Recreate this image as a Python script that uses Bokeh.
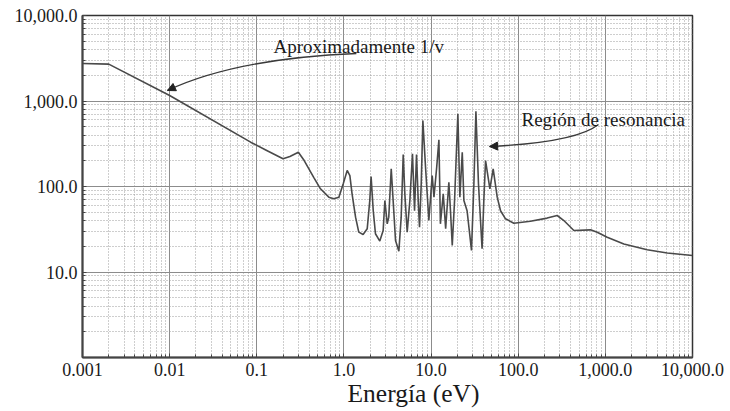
from bokeh.plotting import figure
from bokeh.models import (FixedTicker, CustomJSTickFormatter, Label, Arrow, Title,
                          NormalHead, Range1d, ColumnDataSource)
from bokeh.embed import file_html
from bokeh.resources import INLINE

# Neutron energy (eV) and cross section (barns)
energy = [0.001, 0.002, 0.01, 0.085, 0.13, 0.20, 0.24, 0.30, 0.35, 0.45, 0.538, 0.671, 0.766,
          0.875, 0.98, 1.09, 1.17, 1.24, 1.36, 1.48, 1.66, 1.85, 1.98, 2.05, 2.17, 2.30, 2.58,
          2.82, 2.95, 3.14, 3.27, 3.49, 3.67, 3.91, 4.27, 4.54, 4.79, 5.00, 5.32, 5.71, 6.12,
          6.46, 6.81, 7.12, 7.37, 7.71, 8.05, 8.64, 9.43, 10.3, 10.8, 11.6, 12.3, 12.8, 13.8,
          14.7, 16.0, 16.7, 17.5, 18.6, 20.3, 21.4, 22.8, 23.8, 25.9, 29.1, 31.0, 32.7, 35.0,
          38.5, 40.3, 42.2, 47.3, 51.6, 57.4, 62.7, 71.5, 89, 138, 215, 280, 334, 435, 676,
          806, 1050, 1630, 3020, 5130, 10000]
cross_section = [2750, 2700, 1160, 330, 264, 211, 224, 252, 201, 128, 94, 75, 71.7,
                 75, 107, 154, 134, 82, 43.8, 29.3, 27.5, 32, 68.5, 131, 52, 28, 23,
                 30.6, 68.5, 36.6, 43.8, 161, 68.5, 23.4, 17.5, 43.8, 237, 82, 29.3, 68.5, 241,
                 52, 237, 68.5, 33.5, 107, 591, 168, 40, 134, 75, 168, 351, 36.6, 82,
                 32, 112, 52, 20.4, 68.5, 708, 75, 252, 68.5, 52, 17.9, 107, 760, 107,
                 18.7, 68.5, 201, 94, 161, 75, 52, 41.9, 37.2, 39.3, 42.7, 45.8, 40, 30.6, 31.1,
                 29.2, 25.5, 21.3, 18.2, 16.7, 15.6]

x_ticks = [0.001, 0.01, 0.1, 1, 10, 100, 1000, 10000]
x_tick_labels = ["0.001", "0.01", "0.1", "1.0", "10.0", "100.0", "1,000.0", "10,000.0"]
y_ticks = [10, 100, 1000, 10000]
y_tick_labels = ["10.0", "100.0", "1,000.0", "10,000.0"]

x_title = "Energía (eV)"
note_1v = "Aproximadamente 1/v"
note_res = "Región de resonancia"

FONT = "Liberation Serif"

p = figure(width=730, height=411, x_axis_type="log", y_axis_type="log",
           x_range=Range1d(0.001, 10000), y_range=Range1d(1, 10000),
           output_backend="svg", toolbar_location=None,
           min_border_left=82, min_border_right=38, min_border_top=15, min_border_bottom=54)
p.background_fill_color = "white"
p.border_fill_color = "white"
p.outline_line_color = "#333333"
p.outline_line_width = 1.5

x_minor = [k * 10.0 ** d for d in range(-3, 4) for k in range(2, 10)]
y_minor = [k * 10.0 ** d for d in range(0, 4) for k in range(2, 10)]
p.xaxis.ticker = FixedTicker(ticks=x_ticks, minor_ticks=x_minor)
p.yaxis.ticker = FixedTicker(ticks=y_ticks, minor_ticks=y_minor)

fmt_code = """
for (let i = 0; i < vals.length; i++) {
  if (Math.abs(Math.log10(tick) - Math.log10(vals[i])) < 1e-6) return labs[i];
}
return "";
"""
p.xaxis.formatter = CustomJSTickFormatter(args=dict(vals=x_ticks, labs=x_tick_labels), code=fmt_code)
p.yaxis.formatter = CustomJSTickFormatter(args=dict(vals=y_ticks, labs=y_tick_labels), code=fmt_code)

for ax in (p.xaxis, p.yaxis):
    ax.axis_line_color = "#444444"
    ax.axis_line_width = 2
    ax.major_tick_in = 4
    ax.major_tick_out = 0
    ax.minor_tick_in = 3
    ax.minor_tick_out = 0
    ax.major_tick_line_color = "#444444"
    ax.minor_tick_line_color = "#444444"
    ax.major_label_text_font = FONT
    ax.major_label_text_font_size = "18px"
    ax.major_label_text_color = "#1a1a1a"
p.xaxis.major_label_standoff = 5
p.yaxis.major_label_standoff = 5

for g in (p.xgrid, p.ygrid):
    g.grid_line_color = "#8c8c8c"
    g.grid_line_width = 1
    g.minor_grid_line_color = "#9c9c9c"
    g.minor_grid_line_dash = "1 2"
    g.minor_grid_line_width = 1

src = ColumnDataSource(data=dict(energy=energy, sigma=cross_section))
p.line("energy", "sigma", source=src, line_color="#4a4a4a", line_width=1.6)

# annotations
p.quadratic(x0=[1.39], y0=[3595], x1=[0.00944], y1=[1327], cx=[0.057], cy=[3140],
            line_color="#3a3a3a", line_width=1.4)
p.add_layout(Arrow(end=NormalHead(size=8, fill_color="#222222", line_color="#222222"),
                   x_start=0.057, y_start=3140, x_end=0.00944, y_end=1327, line_alpha=0))
p.quadratic(x0=[834], y0=[531], x1=[46.9], y1=[294], cx=[455], cy=[327],
            line_color="#3a3a3a", line_width=1.4)
p.add_layout(Arrow(end=NormalHead(size=8, fill_color="#222222", line_color="#222222"),
                   x_start=455, y_start=327, x_end=46.9, y_end=294, line_alpha=0))

p.add_layout(Label(x=0.1556, y=4340, text=note_1v, text_font=FONT, text_font_size="19px",
                   text_color="#1a1a1a", text_align="left", text_baseline="alphabetic"))
p.add_layout(Label(x=109, y=608, text=note_res, text_font=FONT, text_font_size="19px",
                   text_color="#1a1a1a", text_align="left", text_baseline="alphabetic"))

# x-axis title below, shifted right as in the reference
p.add_layout(Title(text=x_title, align="left", text_font=FONT, text_font_size="25.5px",
                   text_font_style="normal", text_color="#1a1a1a", offset=265, standoff=0,
                   vertical_align="top", text_line_height=0.9), "below")

open("out.html", "w").write(file_html(p, INLINE))
